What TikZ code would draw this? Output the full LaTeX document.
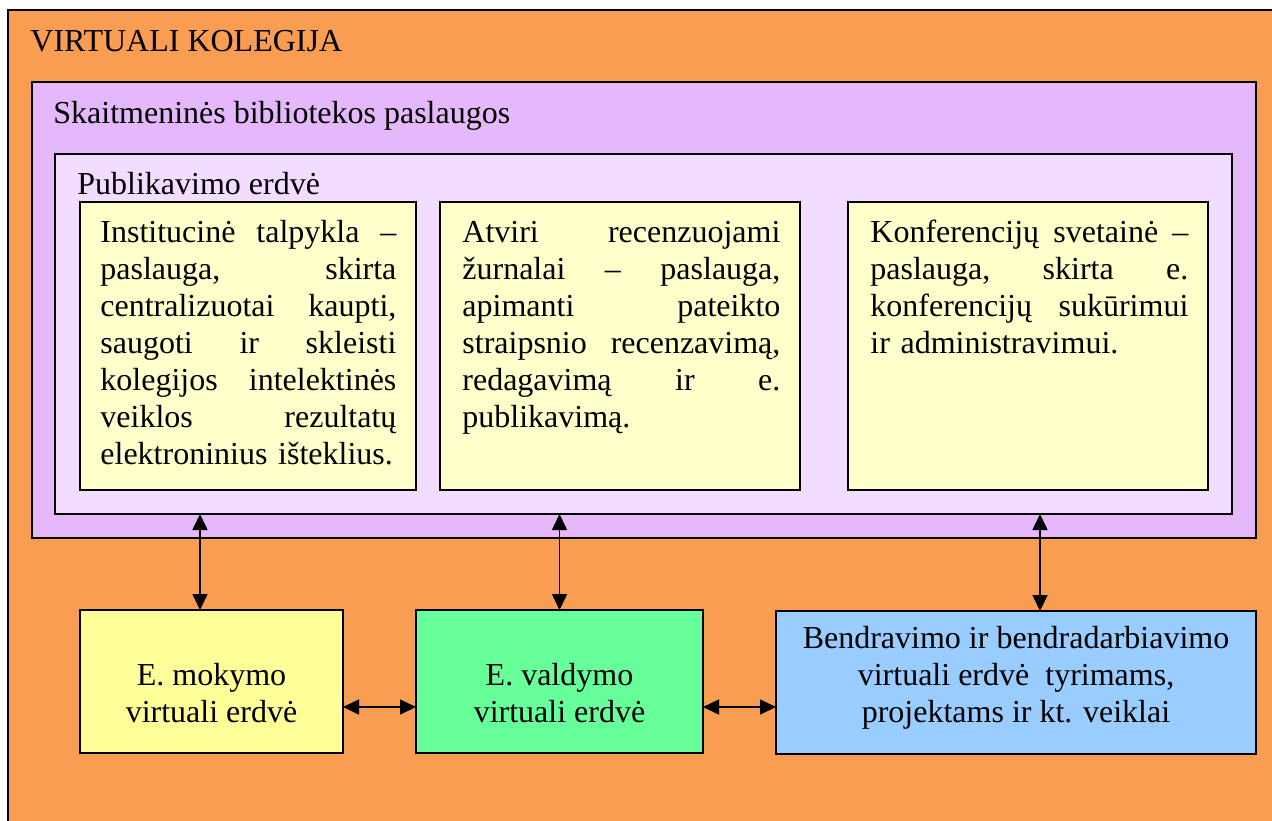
\documentclass[tikz,border=0pt]{standalone}
\usepackage{fontspec}
\setmainfont{Liberation Serif}
\usetikzlibrary{arrows.meta}
\definecolor{vkorange}{RGB}{249,157,82}
\definecolor{sbpurple}{RGB}{229,184,252}
\definecolor{pelav}{RGB}{242,220,255}
\definecolor{lyellow}{RGB}{255,255,204}
\definecolor{byellow}{RGB}{255,255,153}
\definecolor{bgreen}{RGB}{102,255,153}
\definecolor{bblue}{RGB}{153,204,255}
\begin{document}
\begin{tikzpicture}[x=0.5pt,y=-0.5pt,
  box/.style={draw=black, line width=0.8pt, anchor=north west, inner sep=0pt, outer sep=0pt},
  para/.style={anchor=north west, inner sep=0pt, align=left, text width=#1,
    font=\fontsize{16}{18.5}\selectfont, yshift=12.95pt},
  ctext/.style={anchor=north, inner sep=0pt, align=center,
    font=\fontsize{16}{18.5}\selectfont, yshift=12.95pt},
  lbl/.style={anchor=base west, inner sep=0pt, font=\fontsize{16}{18.5}\selectfont},
  link/.style={{Triangle[length=8pt,width=7.5pt]}-{Triangle[length=8pt,width=7.5pt]}, line width=0.8pt}]
\useasboundingbox (0,0) rectangle (1272,820);
\clip (0,0) rectangle (1272,820);
% outer
\node[box, fill=vkorange, minimum width=660pt, minimum height=420pt] (vk) at (8,10) {};
\node[lbl] (t1) at (30,51) {VIRTUALI KOLEGIJA};
% digital library
\node[box, fill=sbpurple, minimum width=612pt, minimum height=228pt] (sb) at (32,82) {};
\node[lbl] (t2) at (53,123) {Skaitmeninės bibliotekos paslaugos};
% publishing space
\node[box, fill=pelav, minimum width=588.5pt, minimum height=180pt] (pub) at (55,154) {};
\node[lbl] (t3) at (77,194) {Publikavimo erdvė};
% three services
\node[box, fill=lyellow, minimum width=168pt, minimum height=144pt] (y1) at (80,202) {};
\node[box, fill=lyellow, minimum width=180pt, minimum height=144pt] (y2) at (440,202) {};
\node[box, fill=lyellow, minimum width=180pt, minimum height=144pt] (y3) at (848,202) {};
\node[para=148pt] (p1) at (100,242) {\strut Institucinė\hfill talpykla\hfill –\\
paslauga,\hfill skirta\\
centralizuotai\hfill kaupti,\\
saugoti\hfill ir\hfill skleisti\\
kolegijos\hfill intelektinės\\
veiklos\hfill rezultatų\\
elektroninius išteklius.};
\node[para=159pt] (p2) at (462,242) {\strut Atviri\hfill recenzuojami\\
žurnalai\hfill –\hfill paslauga,\\
apimanti\hfill pateikto\\
straipsnio\hfill recenzavimą,\\
redagavimą\hfill ir\hfill e.\\
publikavimą.};
\node[para=159pt] (p3) at (870,242) {\strut Konferencijų\hfill svetainė\hfill –\\
paslauga,\hfill skirta\hfill e.\\
konferencijų\hfill sukūrimui\\
ir administravimui.};
% bottom boxes
\node[box, fill=byellow, minimum width=131.5pt, minimum height=71.5pt] (ea) at (80,610) {};
\node[box, fill=bgreen, minimum width=143.5pt, minimum height=71.5pt] (ev) at (416,610) {};
\node[box, fill=bblue, minimum width=240pt, minimum height=71.5pt] (ec) at (776,611) {};
\node[ctext] (ta) at (211.5,685) {\strut E. mokymo\\virtuali erdvė};
\node[ctext] (tb) at (559.5,685) {\strut E. valdymo\\virtuali erdvė};
\node[ctext] (tc) at (1016,648) {\strut Bendravimo ir bendradarbiavimo\\virtuali erdvė\ \ tyrimams,\\projektams ir kt. veiklai};
% connectors
\coordinate (x1) at (200,0);
\coordinate (x3) at (1040,0);
\coordinate (hy) at (0,707);
\draw[link] (pub.south -| x1) -- (ea.north -| x1);
\draw[link] (pub.south -| ev.north) -- (ev.north);
\draw[link] (pub.south -| x3) -- (ec.north -| x3);
\draw[link] (ea.east |- hy) -- (ev.west |- hy);
\draw[link] (ev.east |- hy) -- (ec.west |- hy);
\end{tikzpicture}
\end{document}
